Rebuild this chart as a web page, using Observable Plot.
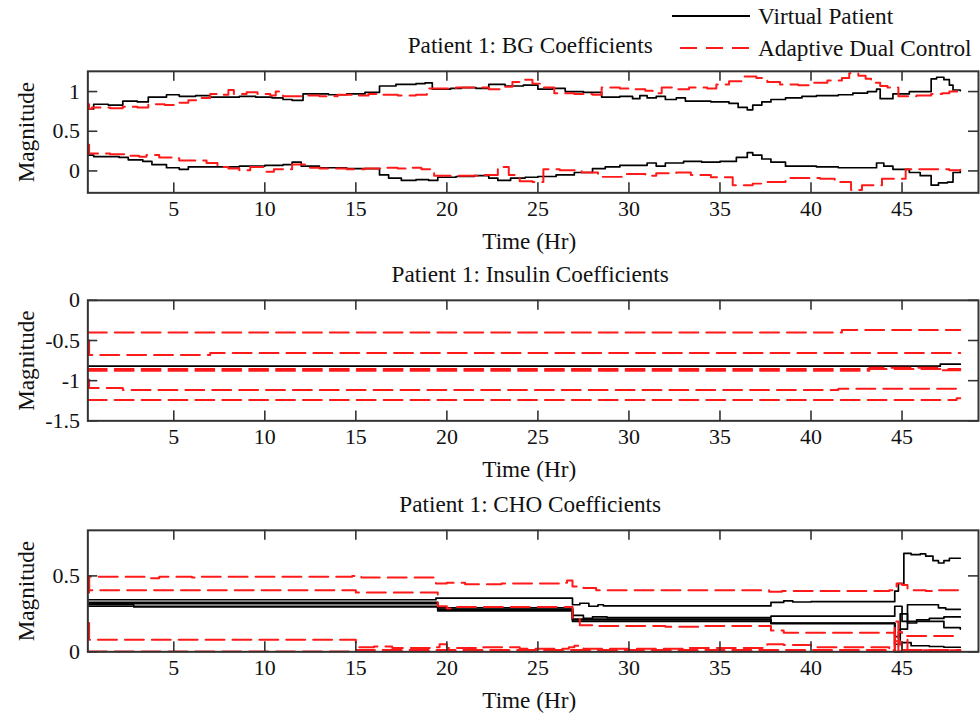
<!DOCTYPE html>
<html>
<head>
<meta charset="utf-8">
<script src="https://cdn.jsdelivr.net/npm/d3@7"></script>
<script src="https://cdn.jsdelivr.net/npm/@observablehq/plot@0.6"></script>
<style>
  html, body { margin: 0; padding: 0; background: #fff; overflow: hidden; }
  #fig { position: relative; width: 980px; height: 719px; overflow: hidden; }
  #fig svg { position: absolute; left: 0; }
</style>
</head>
<body>
<div id="fig"></div>
<script>
const FONT = "Liberation Serif, Tinos, DejaVu Serif, Noto Serif, serif";
const TEXT_SIZE = 23.3;

// ---- Shared axis settings (hours) ----
const timeDomain = [0.28, 49.2];
const timeTicks = [5, 10, 15, 20, 25, 30, 35, 40, 45];

// ---- Panel 1: BG coefficients, [time (hr), magnitude] ----
const bgVirtualA = [[0.28,0.78],[0.6,0.84],[1.4,0.83],[2.2,0.88],[3.0,0.87],[3.6,0.93],[4.6,0.96],[5.3,0.94],[6.2,0.95],[7.0,0.93],[8.6,0.94],[9.5,0.93],[10.4,0.92],[11.0,0.90],[11.5,0.89],[12.1,0.97],[13.5,0.96],[14.5,0.97],[15.5,0.99],[16.3,1.07],[17.2,1.09],[18.3,1.10],[18.8,1.11],[19.2,1.03],[20.2,1.04],[20.8,1.05],[21.6,1.04],[22.3,1.09],[23.2,1.07],[24.2,1.08],[25.0,1.03],[25.8,1.04],[26.5,1.00],[27.5,0.99],[28.5,0.93],[29.5,0.94],[30.2,0.91],[30.6,0.95],[31.0,0.92],[31.5,0.94],[32.0,0.90],[32.6,0.92],[33.1,0.88],[34.5,0.87],[35.5,0.85],[36.0,0.80],[36.5,0.77],[36.8,0.83],[37.3,0.87],[37.8,0.90],[38.6,0.92],[39.5,0.94],[40.3,0.95],[41.5,0.96],[42.3,0.98],[43.1,1.00],[43.6,1.03],[43.8,0.91],[44.5,0.97],[45.4,1.00],[46.6,1.16],[46.9,1.18],[47.3,1.15],[47.6,1.08],[47.8,1.02],[48.2,1.01]];
const bgVirtualB = [[0.28,0.20],[0.6,0.18],[2.0,0.17],[2.5,0.14],[3.3,0.12],[3.8,0.08],[4.6,0.04],[5.3,0.02],[5.8,0.05],[7.0,0.05],[8.6,0.06],[10.0,0.07],[11.0,0.08],[11.5,0.11],[12.0,0.06],[13.0,0.04],[14.5,0.03],[15.5,0.03],[16.3,-0.05],[16.8,-0.09],[17.5,-0.12],[18.3,-0.11],[19.0,-0.12],[19.5,-0.08],[20.5,-0.07],[21.5,-0.06],[22.3,-0.09],[22.8,-0.12],[23.5,-0.09],[24.3,-0.08],[25.0,-0.07],[26.0,-0.05],[27.0,-0.02],[28.0,0.03],[28.7,0.05],[29.5,0.07],[30.5,0.07],[31.0,0.10],[31.5,0.06],[32.0,0.10],[33.0,0.12],[34.0,0.11],[35.0,0.12],[35.9,0.17],[36.5,0.23],[36.8,0.20],[37.3,0.15],[37.8,0.11],[38.6,0.06],[40.3,0.05],[41.5,0.04],[43.1,0.04],[43.6,0.10],[44.0,0.06],[44.5,0.02],[45.4,-0.02],[46.0,-0.06],[46.6,-0.18],[47.0,-0.15],[47.5,-0.14],[47.8,-0.02],[48.2,0.00]];
const bgDualA = [[0.28,0.84],[0.35,0.78],[0.5,0.80],[1.5,0.79],[2.2,0.81],[3.0,0.80],[3.6,0.84],[4.5,0.83],[5.0,0.86],[5.8,0.89],[6.5,0.92],[7.0,0.97],[7.6,0.96],[8.0,1.02],[8.3,0.97],[9.0,0.99],[9.6,0.97],[10.3,0.95],[10.6,1.00],[11.0,0.94],[12.0,0.95],[13.0,0.94],[14.0,0.96],[15.0,0.95],[15.7,0.97],[16.5,0.96],[17.3,0.95],[18.3,0.96],[18.9,1.04],[19.3,1.04],[20.5,1.05],[21.5,1.05],[22.3,1.03],[23.0,1.06],[23.6,1.12],[24.3,1.15],[24.7,1.10],[25.2,1.05],[25.9,0.98],[27.0,0.97],[28.0,0.96],[28.5,1.05],[29.5,1.04],[30.3,1.03],[30.9,1.01],[31.3,0.98],[31.8,1.05],[32.4,1.03],[33.3,1.05],[34.3,1.04],[34.8,1.09],[35.5,1.13],[36.2,1.19],[37.0,1.17],[37.6,1.12],[38.3,1.09],[39.3,1.08],[40.0,1.11],[40.9,1.14],[41.7,1.17],[42.1,1.23],[42.6,1.20],[43.0,1.16],[43.3,1.11],[43.8,1.07],[44.2,1.05],[44.8,0.94],[45.8,0.95],[46.6,0.97],[47.2,0.98],[47.6,1.00],[48.2,1.00]];
const bgDualB = [[0.28,0.33],[0.35,0.22],[1.5,0.21],[2.5,0.19],[3.1,0.18],[3.5,0.20],[4.2,0.17],[4.9,0.16],[5.3,0.13],[6.0,0.13],[6.8,0.10],[7.4,0.05],[8.0,0.03],[8.6,0.01],[9.2,0.05],[10.0,-0.01],[10.5,0.02],[11.5,0.08],[12.2,0.04],[13.0,0.03],[14.5,0.02],[15.5,0.03],[16.5,0.04],[17.3,0.03],[18.0,0.04],[18.6,0.02],[19.3,-0.06],[20.5,-0.06],[22.0,-0.05],[22.8,0.05],[23.4,-0.05],[24.0,-0.13],[24.7,-0.14],[25.3,0.02],[26.2,0.01],[27.4,-0.02],[28.3,-0.075],[29.6,-0.04],[30.9,-0.06],[31.5,-0.03],[32.6,-0.02],[33.4,-0.05],[34.5,-0.08],[35.7,-0.18],[36.8,-0.16],[37.3,-0.14],[38.6,-0.09],[40.5,-0.10],[41.3,-0.14],[42.2,-0.24],[42.8,-0.18],[43.9,-0.10],[45.2,0.02],[46.6,0.02],[47.6,0.01],[48.2,0.015]];

// ---- Panel 2: insulin coefficients ----
const insVirtual = [[0.28,-0.82],[47.0,-0.82],[47.1,-0.795],[48.2,-0.795]];
const insDualA = [[0.28,-0.40],[41.5,-0.40],[41.7,-0.37],[48.2,-0.37]];
const insDualB = [[0.28,-0.50],[0.35,-0.68],[6.8,-0.68],[7.0,-0.655],[48.2,-0.655]];
const insDualC = [[0.28,-0.855],[48.2,-0.855]];
const insDualD = [[0.28,-0.878],[43.1,-0.878],[43.2,-0.84],[47.0,-0.84],[47.1,-0.87],[48.2,-0.87]];
const insDualE = [[0.28,-0.99],[0.35,-1.09],[2.0,-1.09],[2.2,-1.115],[41.3,-1.115],[41.5,-1.10],[48.2,-1.10]];
const insDualF = [[0.28,-1.24],[47.8,-1.24],[48.0,-1.22],[48.2,-1.22]];

// ---- Panel 3: CHO coefficients ----
const choVirtualA = [[0.28,0.343],[19.3,0.343],[19.4,0.354],[26.7,0.354],[26.9,0.31],[27.3,0.32],[27.8,0.30],[28.3,0.31],[28.6,0.302],[37.6,0.302],[37.8,0.325],[38.5,0.335],[39.0,0.328],[40.0,0.33],[44.4,0.33],[44.6,0.40],[44.8,0.45],[45.1,0.648],[45.5,0.64],[46.0,0.645],[46.3,0.63],[46.7,0.60],[47.0,0.585],[47.3,0.60],[47.6,0.616],[48.2,0.616]];
const choVirtualB = [[0.28,0.326],[19.3,0.326],[19.5,0.29],[26.7,0.29],[26.9,0.24],[27.5,0.22],[28.0,0.23],[28.8,0.225],[37.6,0.225],[37.8,0.235],[44.4,0.235],[44.6,0.30],[45.0,0.20],[45.3,0.31],[46.7,0.31],[47.0,0.29],[47.4,0.28],[48.2,0.28]];
const choVirtualC = [[0.28,0.31],[2.7,0.31],[2.8,0.295],[19.3,0.295],[19.5,0.275],[26.7,0.275],[26.9,0.21],[37.6,0.21],[37.8,0.19],[44.4,0.19],[44.6,0.10],[44.9,0.25],[45.3,0.19],[45.8,0.21],[46.5,0.22],[47.3,0.23],[48.2,0.23]];
const choVirtualD = [[0.28,0.30],[19.3,0.30],[19.5,0.27],[26.7,0.27],[26.9,0.20],[37.6,0.20],[37.8,0.185],[44.4,0.185],[44.6,0.05],[44.9,0.15],[45.3,0.20],[46.5,0.20],[47.3,0.16],[48.2,0.15]];
const choVirtualE = [[0.28,0.318],[19.3,0.318],[19.5,0.28],[26.7,0.28],[26.9,0.215],[37.6,0.215],[37.8,0.188],[44.4,0.188],[44.6,0.0],[45.0,0.06],[45.5,0.04],[46.5,0.035],[47.3,0.03],[48.2,0.03]];
const choDualA = [[0.28,0.39],[0.35,0.495],[3.5,0.495],[3.7,0.485],[4.2,0.495],[6.0,0.49],[6.2,0.495],[14.5,0.495],[14.8,0.50],[15.3,0.49],[19.2,0.49],[19.4,0.45],[20.0,0.455],[21.0,0.445],[23.0,0.45],[25.0,0.45],[26.4,0.455],[26.6,0.47],[26.9,0.43],[27.5,0.42],[28.2,0.405],[37.5,0.405],[37.7,0.395],[38.4,0.40],[44.3,0.405],[44.7,0.45],[45.0,0.44],[45.3,0.405],[46.3,0.40],[47.0,0.405],[48.2,0.405]];
const choDualB = [[0.28,0.50],[0.35,0.405],[14.5,0.405],[15.0,0.39],[19.2,0.39],[19.5,0.30],[20.0,0.285],[20.5,0.295],[26.6,0.295],[26.9,0.22],[27.3,0.175],[28.0,0.17],[30.0,0.17],[32.0,0.165],[34.0,0.17],[37.4,0.17],[37.8,0.14],[38.5,0.125],[44.4,0.125],[44.6,0.03],[44.8,0.13],[45.0,0.105],[48.2,0.105]];
const choDualC = [[0.28,0.19],[0.35,0.08],[14.6,0.08],[15.0,0.03],[16.0,0.035],[17.0,0.025],[19.3,0.03],[19.6,0.05],[20.0,0.025],[22.0,0.03],[24.0,0.02],[26.7,0.03],[27.0,0.04],[27.5,0.02],[30.0,0.02],[33.0,0.025],[37.4,0.025],[37.6,0.05],[38.5,0.045],[40.0,0.03],[44.3,0.02],[44.6,0.20],[44.8,0.0],[45.0,0.08],[45.3,0.01],[48.2,0.01]];
const choDualD = [[0.28,0.003],[48.2,0.003]];
const choDualE = [[15.0,0.012],[44.4,0.012],[44.6,0.07],[44.9,0.012],[48.2,0.012]];

// ---- Panel titles, y domains and y ticks ----
const titles = ["Patient 1: BG Coefficients", "Patient 1: Insulin Coefficients", "Patient 1: CHO Coefficients"];
const yDomains = [[-0.276, 1.255], [-1.5, 0], [0, 0.8]];
const yTicks = [[0, 0.5, 1], [-1.5, -1, -0.5, 0], [0, 0.5]];

const BLACK = "#000";
const RED = "#ff1a1a";
const AXIS = "#333";
const DASH = "19,8";

function panel({top, title, yDomain, yTickValues, frameH, black, red}) {
  const W = 984, H = 230, mt = 42, ml = 87.7, mr = 2;
  const mb = H - mt - frameH;
  const fw = W - ml - mr;
  const series = (d, stroke, extra) =>
    Plot.line(d, {x: p => p[0], y: p => p[1], curve: "step-after", stroke, ...extra});
  const tick = {stroke: AXIS, strokeWidth: 1.6};
  const label = {text: d => d, fontSize: TEXT_SIZE, fontFamily: FONT, fill: "#111", lineAnchor: "middle"};
  const svg = Plot.plot({
    width: W, height: H,
    marginTop: mt, marginLeft: ml, marginRight: mr, marginBottom: mb,
    style: {fontFamily: FONT, fontSize: "22px", color: "#111", background: "transparent", overflow: "visible"},
    x: {domain: timeDomain},
    y: {domain: yDomain},
    marks: [
      ...black.map(d => series(d, BLACK, {strokeWidth: 1.7})),
      ...red.map(d => series(d, RED, {strokeWidth: 2, strokeDasharray: DASH})),
      // inward ticks on all four sides
      Plot.ruleX(timeTicks, {x: d => d, insetTop: frameH - 10, ...tick}),
      Plot.ruleX(timeTicks, {x: d => d, insetBottom: frameH - 10, ...tick}),
      Plot.ruleY(yTickValues, {y: d => d, insetRight: fw - 10, ...tick}),
      Plot.ruleY(yTickValues, {y: d => d, insetLeft: fw - 10, ...tick}),
      Plot.frame({stroke: AXIS, strokeWidth: 2}),
      Plot.axisX(timeTicks, {tickSize: 0, tickPadding: 8, tickFormat: d => String(d), label: null, fontFamily: FONT}),
      Plot.axisY(yTickValues, {tickSize: 0, tickPadding: 8, tickFormat: d => String(d), label: null, fontFamily: FONT}),
      Plot.text([title], {...label, frameAnchor: "top", dy: -26, dx: -3}),
      Plot.text(["Time (Hr)"], {...label, frameAnchor: "bottom", dy: 49, dx: -4}),
      Plot.text(["Magnitude"], {...label, frameAnchor: "left", textAnchor: "middle", rotate: -90, dx: -62})
    ]
  });
  svg.style.top = top + "px";
  return svg;
}

const fig = document.getElementById("fig");
fig.append(panel({top: 29, title: titles[0], yDomain: yDomains[0], yTickValues: yTicks[0], frameH: 122,
  black: [bgVirtualA, bgVirtualB], red: [bgDualA, bgDualB]}));
fig.append(panel({top: 258, title: titles[1], yDomain: yDomains[1], yTickValues: yTicks[1], frameH: 121,
  black: [insVirtual], red: [insDualA, insDualB, insDualC, insDualD, insDualE, insDualF]}));
fig.append(panel({top: 488, title: titles[2], yDomain: yDomains[2], yTickValues: yTicks[2], frameH: 122,
  black: [choVirtualA, choVirtualB, choVirtualC, choVirtualD, choVirtualE],
  red: [choDualA, choDualB, choDualC, choDualD, choDualE]}));

// ---- Legend (top right) ----
const legendItems = [
  {label: "Virtual Patient", stroke: BLACK, dash: null, x1: 12},
  {label: "Adaptive Dual Control", stroke: RED, dash: "17,9", x1: 20}
];
const leg = d3.select(fig).append("svg")
  .attr("width", 320).attr("height", 64)
  .style("left", "660px").style("top", "0px");
const row = leg.selectAll("g").data(legendItems).join("g")
  .attr("transform", (d, i) => `translate(0,${16 + i * 32})`);
row.append("line")
  .attr("x1", d => d.x1).attr("x2", 90).attr("y1", 0).attr("y2", 0)
  .attr("stroke", d => d.stroke).attr("stroke-width", 2)
  .attr("stroke-dasharray", d => d.dash);
row.append("text")
  .attr("x", 98).attr("y", 0).attr("dy", "0.35em")
  .style("font-family", FONT)
  .attr("font-size", TEXT_SIZE).attr("fill", "#111")
  .text(d => d.label);
</script>
</body>
</html>
